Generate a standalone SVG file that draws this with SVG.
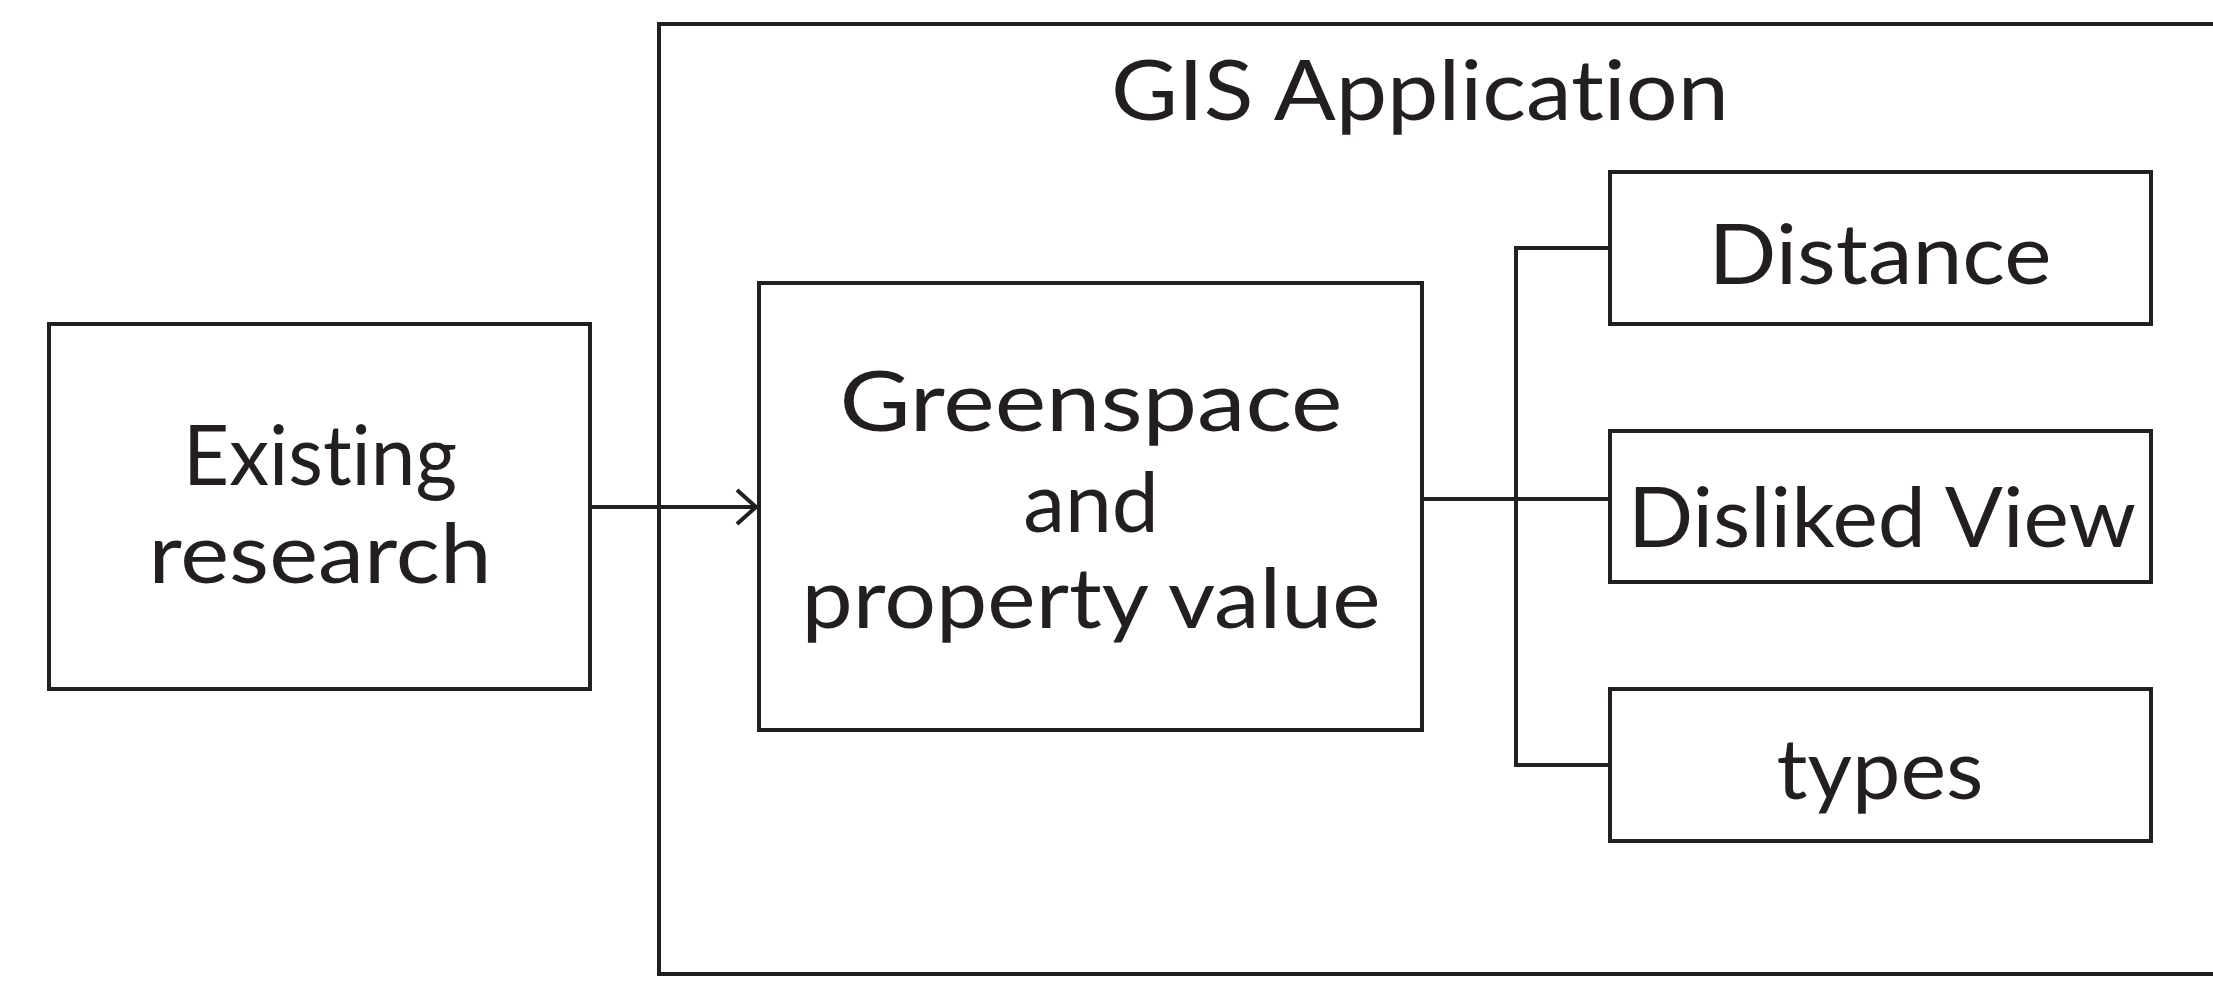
<svg xmlns="http://www.w3.org/2000/svg" width="2213" height="982" viewBox="0 0 2213 982">
<defs>
<style>
.box{fill:none;stroke:#231f20;stroke-width:4}
.ln{fill:none;stroke:#231f20;stroke-width:4}
.t{font-family:Lato,"Liberation Sans",sans-serif;font-size:84px;font-weight:400;font-variant-ligatures:none;fill:#231f20;text-anchor:middle}
</style>
<marker id="arr" viewBox="0 0 24 40" refX="22" refY="20" markerWidth="24" markerHeight="40" markerUnits="userSpaceOnUse" orient="auto">
<polyline points="2,3 21,20 2,37" fill="none" stroke="#231f20" stroke-width="4"/>
</marker>
</defs>
<rect width="2213" height="982" fill="#fff"/>
<g id="gis">
<rect class="box" x="659" y="24" width="1600" height="950"/>
<text class="t" x="1420" y="120" textLength="618" lengthAdjust="spacingAndGlyphs">GIS Application</text>
</g>
<g id="existing">
<rect class="box" x="49" y="324" width="541" height="365"/>
<text class="t" x="320" y="485" textLength="274" lengthAdjust="spacingAndGlyphs">Existing</text>
<text class="t" x="320" y="583" textLength="343" lengthAdjust="spacingAndGlyphs">research</text>
</g>
<g id="greenspace">
<rect class="box" x="759" y="283" width="663" height="447"/>
<text class="t" x="1091" y="431" textLength="503" lengthAdjust="spacingAndGlyphs">Greenspace</text>
<text class="t" x="1091" y="532">and</text>
<text class="t" x="1091" y="628" textLength="579" lengthAdjust="spacingAndGlyphs">property value</text>
</g>
<g id="distance">
<rect class="box" x="1610" y="172" width="541" height="152"/>
<text class="t" x="1880" y="284" textLength="343" lengthAdjust="spacingAndGlyphs">Distance</text>
</g>
<g id="disliked">
<rect class="box" x="1610" y="431" width="541" height="151"/>
<text class="t" x="1882" y="547" textLength="508" lengthAdjust="spacingAndGlyphs">Disliked View</text>
</g>
<g id="types">
<rect class="box" x="1610" y="689" width="541" height="152"/>
<text class="t" x="1880" y="799" textLength="207" lengthAdjust="spacingAndGlyphs">types</text>
</g>
<g id="connectors">
<line class="ln" x1="590" y1="507" x2="757" y2="507" marker-end="url(#arr)"/>
<line class="ln" x1="1422" y1="499" x2="1610" y2="499"/>
<polyline class="ln" points="1610,248 1516,248 1516,765 1610,765"/>
</g>
</svg>
